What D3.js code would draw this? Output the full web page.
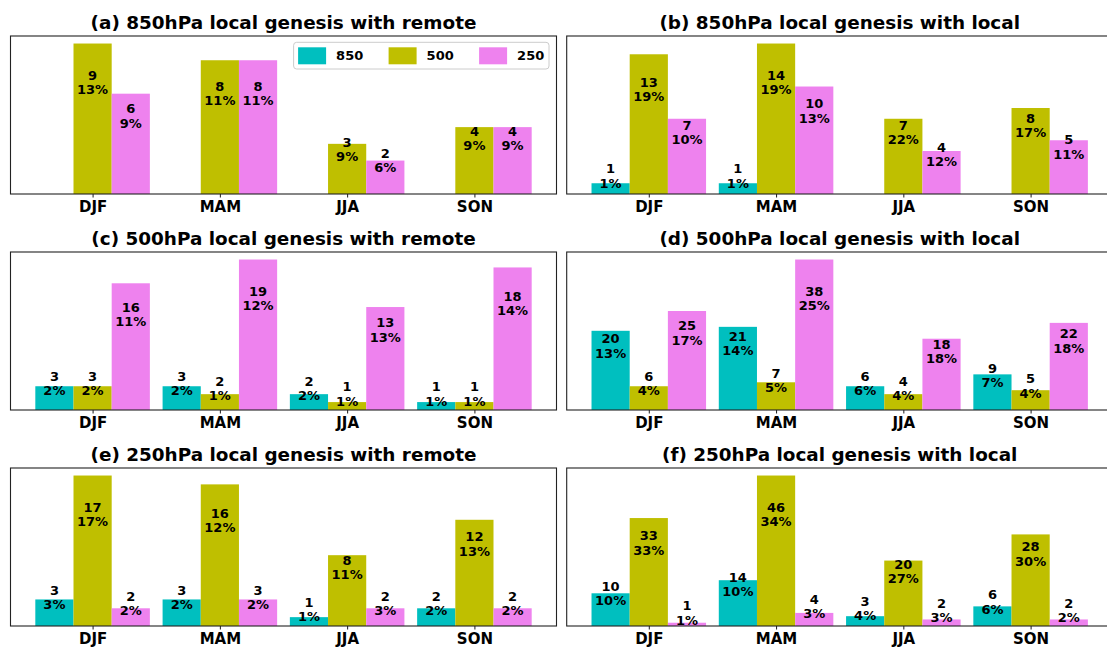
<!DOCTYPE html>
<html>
<head>
<meta charset="utf-8">
<script src="https://cdn.jsdelivr.net/npm/d3@7"></script>
<style>
  html, body { margin: 0; padding: 0; background: #fff; }
  svg { display: block; font-family: "DejaVu Sans", sans-serif; }
</style>
</head>
<body>
<svg id="chart" width="1107" height="647"></svg>
<script>
// ---------------- DATA ----------------
const seasons = ["DJF", "MAM", "JJA", "SON"];
const levels = ["850", "500", "250"];
const titles = [
  "(a) 850hPa local genesis with remote",
  "(b) 850hPa local genesis with local",
  "(c) 500hPa local genesis with remote",
  "(d) 500hPa local genesis with local",
  "(e) 250hPa local genesis with remote",
  "(f) 250hPa local genesis with local"
];
// counts per level [850, 500, 250], each across seasons
const countsA = [[0, 0, 0, 0], [9, 8, 3, 4], [6, 8, 2, 4]];
const pctA    = [[0, 0, 0, 0], [13, 11, 9, 9], [9, 11, 6, 9]];
const countsB = [[1, 1, 0, 0], [13, 14, 7, 8], [7, 10, 4, 5]];
const pctB    = [[1, 1, 0, 0], [19, 19, 22, 17], [10, 13, 12, 11]];
const countsC = [[3, 3, 2, 1], [3, 2, 1, 1], [16, 19, 13, 18]];
const pctC    = [[2, 2, 2, 1], [2, 1, 1, 1], [11, 12, 13, 14]];
const countsD = [[20, 21, 6, 9], [6, 7, 4, 5], [25, 38, 18, 22]];
const pctD    = [[13, 14, 6, 7], [4, 5, 4, 4], [17, 25, 18, 18]];
const countsE = [[3, 3, 1, 2], [17, 16, 8, 12], [2, 3, 2, 2]];
const pctE    = [[3, 2, 1, 2], [17, 12, 11, 13], [2, 2, 3, 2]];
const countsF = [[10, 14, 3, 6], [33, 46, 20, 28], [1, 4, 2, 2]];
const pctF    = [[10, 10, 4, 6], [33, 34, 27, 30], [1, 3, 3, 2]];

const panels = [
  { title: titles[0], counts: countsA, pct: pctA, legend: true },
  { title: titles[1], counts: countsB, pct: pctB },
  { title: titles[2], counts: countsC, pct: pctC },
  { title: titles[3], counts: countsD, pct: pctD },
  { title: titles[4], counts: countsE, pct: pctE },
  { title: titles[5], counts: countsF, pct: pctF }
];

// ---------------- STYLE / LAYOUT ----------------
const colors = ["#00BFBF", "#BFBF00", "#EE82EE"];
const offsets = [-0.3, 0, 0.3];
const barW = 0.3;
const colLeft = [10.5, 566.7];
const rowTop = [36, 252, 468];
const axW = 546, axH = 158;

const svg = d3.select("#chart");

panels.forEach((p, k) => {
  const col = k % 2, row = Math.floor(k / 2);
  const g = svg.append("g").attr("transform", `translate(${colLeft[col]},${rowTop[row]})`);

  const x = d3.scaleLinear().domain([-0.645, 3.645]).range([0, axW]);
  const maxV = d3.max(p.counts.flat());
  const y = d3.scaleLinear().domain([0, maxV * 1.05]).range([axH, 0]);

  // bars
  levels.forEach((lev, li) => {
    g.selectAll(null)
      .data(p.counts[li].map((v, si) => ({ v, si })))
      .enter().append("rect")
      .attr("x", d => x(d.si + offsets[li] - barW / 2))
      .attr("width", d => x(d.si + offsets[li] + barW / 2) - x(d.si + offsets[li] - barW / 2))
      .attr("y", d => y(d.v))
      .attr("height", d => axH - y(d.v))
      .attr("fill", colors[li]);
  });

  // labels
  levels.forEach((lev, li) => {
    p.counts[li].forEach((v, si) => {
      if (v === 0) return;
      const cx = x(si + offsets[li]);
      const hpx = axH - y(v);
      const cy = axH - (0.67 * hpx + 11);
      const t = g.append("text")
        .attr("x", cx)
        .attr("text-anchor", "middle")
        .attr("font-size", "13px")
        .attr("font-weight", "bold")
        .attr("fill", "#000");
      t.append("tspan").attr("x", cx).attr("y", cy - 7.2).attr("dy", "0.36em").text(v);
      t.append("tspan").attr("x", cx).attr("y", cy + 7.2).attr("dy", "0.36em").text(p.pct[li][si] + "%");
    });
  });

  // x axis
  const xAxis = d3.axisBottom(x)
    .tickValues(d3.range(seasons.length))
    .tickFormat(i => seasons[i])
    .tickSize(3.5)
    .tickPadding(3.5);
  const ax = g.append("g").attr("transform", `translate(0,${axH})`).call(xAxis);
  ax.select(".domain").remove();
  ax.selectAll(".tick line").attr("stroke", "#000").attr("stroke-width", 0.9);
  ax.selectAll(".tick text")
    .attr("font-family", "DejaVu Sans")
    .attr("font-size", "15px")
    .attr("font-weight", "bold")
    .attr("fill", "#000");

  // frame
  g.append("rect")
    .attr("x", 0).attr("y", 0).attr("width", axW).attr("height", axH)
    .attr("fill", "none").attr("stroke", "#222").attr("stroke-width", 1.1);

  // title
  g.append("text")
    .attr("x", axW / 2).attr("y", -7)
    .attr("text-anchor", "middle")
    .attr("font-size", "18.4px")
    .attr("font-weight", "bold")
    .attr("fill", "#000")
    .text(p.title);

  // legend
  if (p.legend) {
    const lg = g.append("g").attr("transform", `translate(${293.6 - colLeft[0]},${42.3 - rowTop[0]})`);
    lg.append("rect")
      .attr("width", 255.4).attr("height", 26.7)
      .attr("rx", 3).attr("ry", 3)
      .attr("fill", "#fff").attr("fill-opacity", 0.85)
      .attr("stroke", "#cccccc").attr("stroke-width", 1);
    const step = 90.5;
    levels.forEach((lev, li) => {
      lg.append("rect")
        .attr("x", 4.5 + li * step).attr("y", 5)
        .attr("width", 28).attr("height", 17)
        .attr("fill", colors[li]);
      lg.append("text")
        .attr("x", 42.5 + li * step).attr("y", 13.5)
        .attr("dy", "0.36em")
        .attr("font-size", "13px")
        .attr("font-weight", "bold")
        .attr("fill", "#000")
        .text(lev);
    });
  }
});
</script>
</body>
</html>
